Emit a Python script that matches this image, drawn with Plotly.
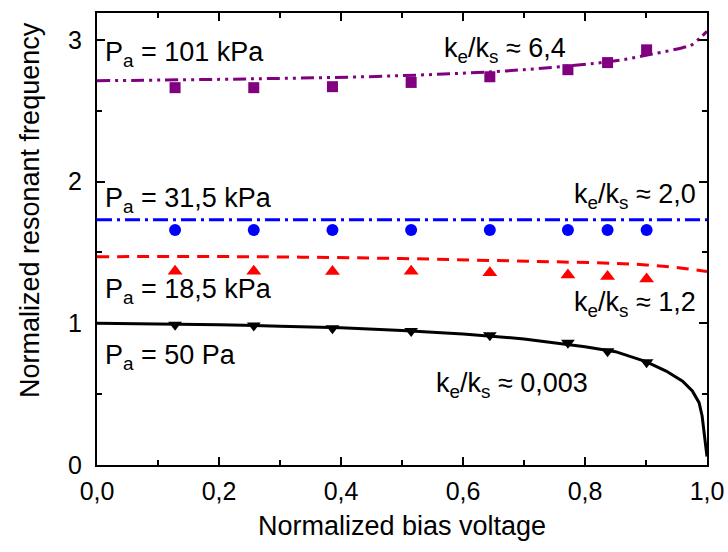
import plotly.graph_objects as go

# Measured points (normalized bias voltage)
x_meas = [0.128, 0.257, 0.386, 0.515, 0.644, 0.772, 0.837, 0.901]
f_101kPa = [2.663, 2.663, 2.67, 2.70, 2.74, 2.79, 2.84, 2.93]
f_31kPa = [1.658, 1.658, 1.658, 1.658, 1.658, 1.658, 1.658, 1.658]
f_18kPa = [1.367, 1.367, 1.365, 1.367, 1.356, 1.341, 1.330, 1.312]
f_50Pa = [0.99, 0.985, 0.965, 0.945, 0.915, 0.862, 0.803, 0.726]

# Model curves
x_fit_101 = [0.0, 0.25, 0.5, 0.7, 0.85, 0.91, 0.96, 0.975, 0.99, 1.0]
fit_101 = [2.712, 2.725, 2.748, 2.79, 2.853, 2.90, 2.945, 2.965, 3.02, 3.06]
x_fit_31 = [0.0, 1.0]
fit_31 = [1.73, 1.73]
x_fit_18 = [0.0, 0.25, 0.5, 0.65, 0.75, 0.85, 0.9, 0.95, 1.0]
fit_18 = [1.47, 1.47, 1.457, 1.443, 1.434, 1.423, 1.412, 1.394, 1.365]
x_fit_50 = [0.0, 0.1, 0.2, 0.3, 0.4, 0.5, 0.6, 0.7, 0.8, 0.85, 0.9, 0.933,
            0.96, 0.976, 0.987, 0.992, 0.995, 0.998, 1.0]
fit_50 = [1.0, 0.997, 0.99, 0.98, 0.968, 0.95, 0.925, 0.89, 0.835, 0.80, 0.73,
          0.663, 0.592, 0.522, 0.44, 0.346, 0.23, 0.12, 0.06]

x_tickvals = [0.0, 0.2, 0.4, 0.6, 0.8, 1.0]
x_ticktext = ["0,0", "0,2", "0,4", "0,6", "0,8", "1,0"]
y_tickvals = [0, 1, 2, 3]
y_ticktext = ["0", "1", "2", "3"]

PURPLE = "#800080"
BLUE = "#0000FF"
RED = "#FF0000"
BLACK = "#000000"
FONT = "Liberation Sans, Arial, sans-serif"

fig = go.Figure()

# fit lines
fig.add_trace(go.Scatter(x=x_fit_101, y=fit_101, mode="lines", line_shape="spline",
                         line=dict(color=PURPLE, width=3, dash="13px,5px,3px,5px,3px,5px")))
fig.add_trace(go.Scatter(x=x_fit_31, y=fit_31, mode="lines",
                         line=dict(color=BLUE, width=3, dash="15px,5px,3px,5px")))
fig.add_trace(go.Scatter(x=x_fit_18, y=fit_18, mode="lines", line_shape="spline",
                         line=dict(color=RED, width=3, dash="12px,8px")))
fig.add_trace(go.Scatter(x=x_fit_50, y=fit_50, mode="lines",
                         line=dict(color=BLACK, width=3)))

# measured points
fig.add_trace(go.Scatter(x=x_meas, y=f_101kPa, mode="markers",
                         marker=dict(symbol="square", size=11, color=PURPLE)))
fig.add_trace(go.Scatter(x=x_meas, y=f_31kPa, mode="markers",
                         marker=dict(symbol="circle", size=12, color=BLUE)))
fig.add_trace(go.Scatter(x=x_meas, y=f_18kPa, mode="markers",
                         marker=dict(symbol="triangle-up", size=13, color=RED)))
fig.add_trace(go.Scatter(x=x_meas, y=f_50Pa, mode="markers",
                         marker=dict(symbol="triangle-down", size=12, color=BLACK)))

ann_font = dict(family=FONT, size=27, color="black")
labels = [
    (0.01, 2.90, "left", "P<sub>a</sub> = 101 kPa"),
    (0.565, 2.93, "left", "k<sub>e</sub>/k<sub>s</sub> ≈ 6,4"),
    (0.01, 1.87, "left", "P<sub>a</sub> = 31,5 kPa"),
    (0.985, 1.90, "right", "k<sub>e</sub>/k<sub>s</sub> ≈ 2,0"),
    (0.01, 1.225, "left", "P<sub>a</sub> = 18,5 kPa"),
    (0.985, 1.135, "right", "k<sub>e</sub>/k<sub>s</sub> ≈ 1,2"),
    (0.01, 0.76, "left", "P<sub>a</sub> = 50 Pa"),
    (0.553, 0.565, "left", "k<sub>e</sub>/k<sub>s</sub> ≈ 0,003"),
]
for x, y, anchor, text in labels:
    fig.add_annotation(x=x, y=y, xref="x", yref="y", text=text, showarrow=False,
                       xanchor=anchor, yanchor="middle", font=ann_font)

# plot area in figure pixels
L, T, R, B = 97, 13, 707, 465
W, H = 728, 552

# y axis title as rotated annotation
fig.add_annotation(xref="paper", yref="paper",
                   x=(30 - L) / (R - L), y=(B - 210) / (B - T),
                   xanchor="center", yanchor="middle",
                   text="Normalized resonant frequency",
                   showarrow=False, textangle=-90,
                   font=dict(family=FONT, size=27, color="black"))

axis_common = dict(showline=True, linecolor="black", linewidth=2, mirror="allticks",
                   ticks="inside", ticklen=8, tickwidth=1.5, tickcolor="black",
                   showgrid=False, zeroline=False, automargin=False,
                   tickfont=dict(family=FONT, size=25, color="black"))

fig.update_xaxes(range=[0, 1.0], tickvals=x_tickvals, ticktext=x_ticktext,
                 ticklabelstandoff=3,
                 minor=dict(ticks="inside", ticklen=5, dtick=0.1, tick0=0, tickcolor="black", tickwidth=1.5),
                 title=dict(text="Normalized bias voltage", font=dict(family=FONT, size=27, color="black"),
                            standoff=12),
                 **axis_common)
fig.update_yaxes(range=[0, 3.19], tickvals=y_tickvals, ticktext=y_ticktext,
                 ticklabelstandoff=8,
                 minor=dict(ticks="inside", ticklen=5, dtick=0.5, tick0=0, tickcolor="black", tickwidth=1.5),
                 **axis_common)

fig.update_layout(width=W, height=H, showlegend=False, autosize=False,
                  paper_bgcolor="white", plot_bgcolor="white",
                  margin=dict(l=L, r=W - R, t=T, b=H - B),
                  font=dict(family=FONT, color="black"))

fig.write_html("out.html",
               config={"responsive": False, "displayModeBar": False},
               post_script="document.body.style.margin='0';document.body.style.overflow='hidden';")
